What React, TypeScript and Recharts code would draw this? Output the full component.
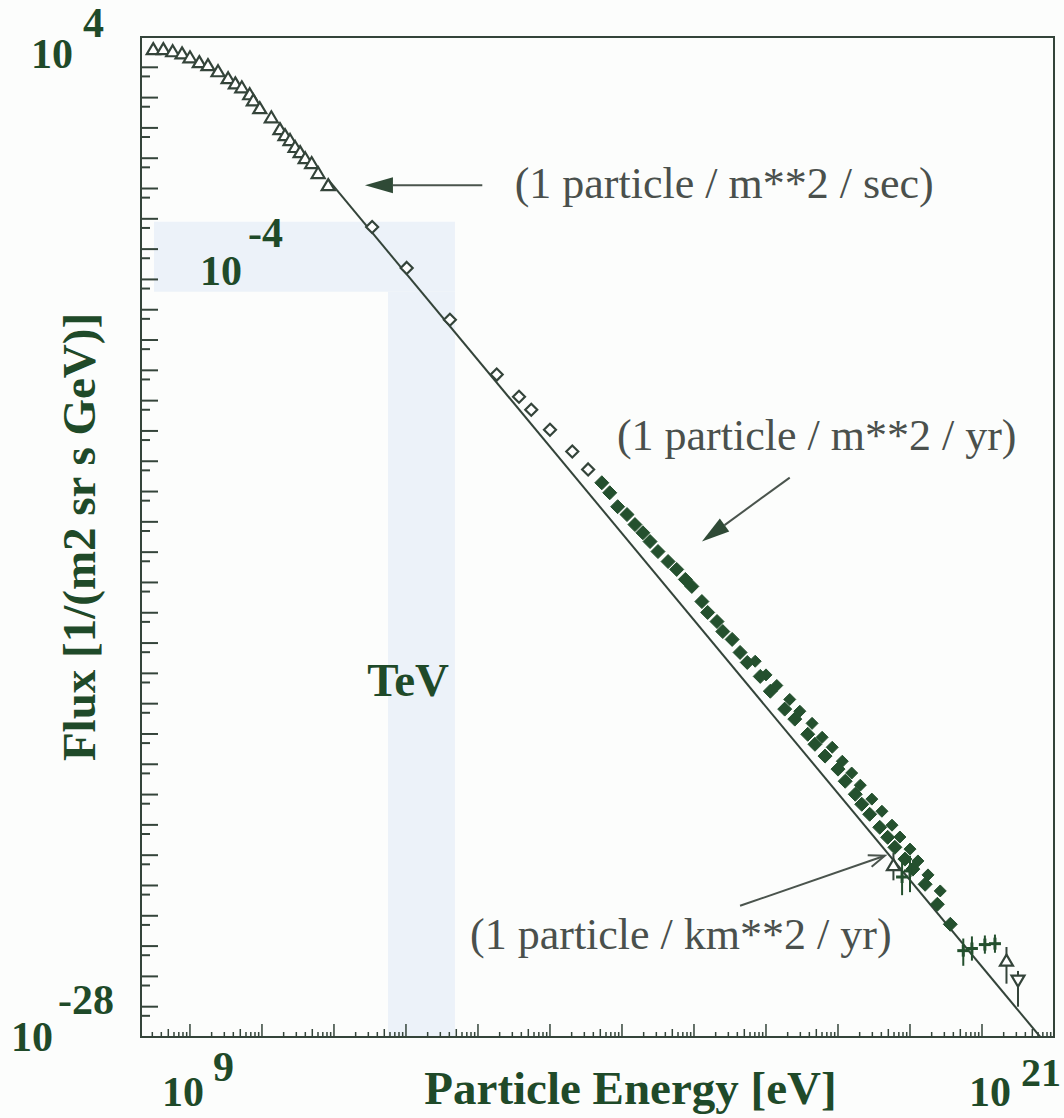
import React from 'react';
import {
  ComposedChart,
  XAxis,
  YAxis,
  Scatter,
  Line,
  ErrorBar,
  ReferenceArea,
  ReferenceLine,
  ReferenceDot,
} from 'recharts';

const SERIF = '"Liberation Serif", "Times New Roman", serif';
const INK = '#1f4a29';
const STROKE = '#34443a';
const MARK = '#24502e';
const BAND = '#ecf2f9';

// all values are log10: energy in eV, flux in 1/(m2 sr s GeV)
const triE = [8.49, 8.63, 8.76, 8.89, 9.0, 9.13, 9.25, 9.39, 9.53, 9.63, 9.72, 9.83, 9.88, 9.97, 10.13, 10.25, 10.32, 10.39, 10.46, 10.53, 10.6, 10.69, 10.78, 10.92];
const triF = [4.6, 4.6, 4.53, 4.46, 4.33, 4.17, 4.07, 3.87, 3.64, 3.47, 3.34, 3.11, 2.91, 2.65, 2.35, 1.96, 1.76, 1.6, 1.37, 1.2, 1.0, 0.84, 0.51, 0.11];

const diaE = [11.53, 12.01, 12.61, 13.26, 13.57, 13.74, 14.0, 14.31, 14.53];
const diaF = [-1.27, -2.62, -4.33, -6.14, -6.87, -7.3, -7.96, -8.68, -9.27];

const denseE = [14.72, 14.83, 14.94, 15.07, 15.18, 15.29, 15.39, 15.5, 15.64, 15.76, 15.88, 15.97, 16.11, 16.19, 16.32, 16.4, 16.53, 16.64, 16.74, 16.92, 17.06, 17.26, 17.4, 17.58, 17.68, 17.82, 18.0, 18.1, 18.24, 18.33, 18.44, 18.58, 18.69, 18.79, 18.93, 19.04, 19.21, 19.38, 19.56];
const denseF = [-9.71, -10.04, -10.5, -10.76, -11.09, -11.36, -11.65, -11.98, -12.31, -12.57, -12.9, -13.13, -13.63, -13.99, -14.29, -14.62, -14.88, -15.31, -15.64, -16.1, -16.59, -17.18, -17.51, -18.01, -18.34, -18.73, -19.16, -19.56, -19.99, -20.32, -20.65, -21.08, -21.41, -21.74, -22.13, -22.46, -22.96, -23.62, -24.28];

const showerE = [16.85, 17.0, 17.15, 17.33, 17.47, 17.64, 17.78, 17.92, 18.06, 18.19, 18.31, 18.47, 18.61, 18.75, 18.86, 19.0, 19.11, 19.25, 19.42];
const showerF = [-15.6, -16.05, -16.4, -16.86, -17.25, -17.65, -18.11, -18.44, -18.9, -19.29, -19.69, -20.15, -20.55, -21.01, -21.4, -21.8, -22.19, -22.65, -23.18];

const errE = [18.89, 19.0, 19.74, 19.86, 20.04, 20.18];
const errF = [-22.72, -22.52, -25.15, -25.08, -24.95, -24.92];
const errLo = [0.6, 0.7, 0.5, 0.4, 0.3, 0.3];
const errHi = [0.6, 0.5, 0.4, 0.4, 0.3, 0.3];

const upE = [18.77, 20.34];
const upF = [-22.33, -25.48];
const upLo = [0.5, 0.76];
const upHi = [0.4, 0.45];

const downE = [20.5];
const downF = [-26.14];
const downLo = [0.86];
const downHi = [0.32];

// power-law fit line
const fitE = [10.92, 20.81];
const fitF = [0.29, -28];

const xDomain = [8.32, 21];
const yDomain = [-28, 5];
const xDecades = [8, 9, 10, 11, 12, 13, 14, 15, 16, 17, 18, 19, 20, 21];
const yDecades = Array.from({ length: 33 }, (_, i) => -28 + i);
const xLabels: Record<number, string> = { 9: '9', 21: '21' };
const yLabels: Record<number, string> = { 4: '4', [-28]: '-28' };

const notes = [
  { text: '(1 particle / m**2 / sec)', e: 13.51, f: -0.31 },
  { text: '(1 particle / m**2 / yr)', e: 14.93, f: -8.62 },
  { text: '(1 particle / km**2 / yr)', e: 12.89, f: -25.09 },
];

const arrows = [
  { e1: 13.06, f1: 0.11, e2: 11.43, f2: 0.11, head: 'big' },
  { e1: 17.33, f1: -9.54, e2: 16.11, f2: -11.65, head: 'big' },
  { e1: 16.64, f1: -23.67, e2: 18.65, f2: -22.02, head: 'open' },
];

const rows = (e: number[], f: number[]) => e.map((v, i) => ({ e: v, f: f[i] }));
const errRows = (e: number[], f: number[], lo: number[], hi: number[]) =>
  e.map((v, i) => ({ e: v, f: f[i], err: [lo[i], hi[i]] }));

const xTicks: number[] = [];
for (const n of xDecades) {
  for (let k = 1; k <= 9; k++) {
    const v = n + Math.log10(k);
    if (v >= xDomain[0] - 1e-9 && v <= xDomain[1] + 1e-9) xTicks.push(v);
    if (n === 21) break;
  }
}
const yTicks: number[] = [];
for (const n of yDecades) {
  yTicks.push(n);
  if (n > -28 && n <= 4) yTicks.push(n - Math.log10(2));
}

function frac(v: number) {
  return v - Math.floor(v + 1e-7);
}

function XTick(props: any) {
  const { x, y, payload } = props;
  const v = payload.value;
  const fr = frac(v);
  const major = fr < 1e-6;
  const five = Math.abs(fr - Math.log10(5)) < 1e-6;
  const len = major ? 13 : five ? 8 : 5;
  const key = Math.round(v);
  return (
    <g>
      <line x1={x} y1={y} x2={x} y2={y - len} stroke={STROKE} strokeWidth={1.5} />
      {major && xLabels[key] && (
        <g fontFamily={SERIF} fontWeight="bold" fontSize={42} fill={INK}>
          <text x={key === 9 ? x - 7 : x - 64} y={y + 69} textAnchor="middle">10</text>
          <text x={key === 9 ? x + 23 : x - 33} y={key === 9 ? y + 44 : y + 49} fontSize={key === 9 ? 42 : 40}>
            {xLabels[key]}
          </text>
        </g>
      )}
    </g>
  );
}

function YTick(props: any) {
  const { x, y, payload } = props;
  const v = payload.value;
  const major = frac(v) < 1e-6;
  const len = major ? 17 : 9;
  const key = Math.round(v);
  return (
    <g>
      <line x1={x} y1={y} x2={x + len} y2={y} stroke={STROKE} strokeWidth={2} />
      {major && yLabels[key] && (
        <g fontFamily={SERIF} fontWeight="bold" fontSize={42} fill={INK}>
          <text x={key === 4 ? x - 89 : x - 109} y={key === 4 ? y + 1 : y + 14} textAnchor="middle">10</text>
          <text x={key === 4 ? x - 58 : x - 83} y={key === 4 ? y - 30 : y - 23}>{yLabels[key]}</text>
        </g>
      )}
    </g>
  );
}

const openTriUp = (p: any) => (
  <polygon
    points={`${p.cx},${p.cy - 6} ${p.cx + 6.5},${p.cy + 5} ${p.cx - 6.5},${p.cy + 5}`}
    fill="#fff"
    stroke={STROKE}
    strokeWidth={2.2}
  />
);
const openTriDown = (p: any) => (
  <polygon
    points={`${p.cx},${p.cy + 6} ${p.cx + 6.5},${p.cy - 5} ${p.cx - 6.5},${p.cy - 5}`}
    fill="#fff"
    stroke={STROKE}
    strokeWidth={2.2}
  />
);
const openDiamond = (p: any) => (
  <polygon
    points={`${p.cx},${p.cy - 6} ${p.cx + 6},${p.cy} ${p.cx},${p.cy + 6} ${p.cx - 6},${p.cy}`}
    fill="#fff"
    stroke={STROKE}
    strokeWidth={2.2}
  />
);
const filledDiamond = (p: any) => (
  <polygon
    points={`${p.cx},${p.cy - 7} ${p.cx + 7},${p.cy} ${p.cx},${p.cy + 7} ${p.cx - 7},${p.cy}`}
    fill={MARK}
    stroke={MARK}
    strokeWidth={1}
  />
);
const smallDiamond = (p: any) => (
  <polygon
    points={`${p.cx},${p.cy - 6} ${p.cx + 6},${p.cy} ${p.cx},${p.cy + 6} ${p.cx - 6},${p.cy}`}
    fill={MARK}
    stroke={MARK}
    strokeWidth={1}
  />
);
const cross = (p: any) => (
  <g stroke={MARK} strokeWidth={3}>
    <line x1={p.cx - 6} y1={p.cy} x2={p.cx + 6} y2={p.cy} />
    <line x1={p.cx} y1={p.cy - 6} x2={p.cx} y2={p.cy + 6} />
  </g>
);

function Arrow(props: any) {
  const { x1, y1, x2, y2, head } = props;
  const dx = x2 - x1;
  const dy = y2 - y1;
  const L = Math.hypot(dx, dy);
  const ux = dx / L;
  const uy = dy / L;
  const hl = head === 'big' ? 28 : 16;
  const hw = head === 'big' ? 8 : 6;
  const bx = x2 - ux * hl;
  const by = y2 - uy * hl;
  const p1 = `${bx - uy * hw},${by + ux * hw}`;
  const p2 = `${bx + uy * hw},${by - ux * hw}`;
  return (
    <g>
      <line x1={x1} y1={y1} x2={head === 'big' ? bx : x2} y2={head === 'big' ? by : y2} stroke="#4a544d" strokeWidth={2} />
      {head === 'big' ? (
        <polygon points={`${x2},${y2} ${p1} ${p2}`} fill="#2f4a36" />
      ) : (
        <polyline points={`${p1} ${x2},${y2} ${p2}`} fill="none" stroke="#4a544d" strokeWidth={2} />
      )}
    </g>
  );
}

export default function App() {
  return (
    <div style={{ width: 1064, height: 1118, background: '#fcfdfc' }}>
      <style>{'body{margin:0}'}</style>
      <ComposedChart width={1064} height={1118} margin={{ top: 37, right: 10, bottom: 0, left: 0 }}>
        <XAxis
          type="number"
          dataKey="e"
          domain={xDomain}
          allowDataOverflow
          ticks={xTicks}
          interval={0}
          tick={<XTick />}
          tickSize={0}
          tickMargin={0}
          tickLine={false}
          axisLine={false}
          height={81}
          label={{
            content: ({ viewBox }: any) => (
              <text
                x={viewBox.x + viewBox.width / 2 + 33}
                y={viewBox.y + 67}
                textAnchor="middle"
                fontFamily={SERIF}
                fontWeight="bold"
                fontSize={47}
                fill={INK}
              >
                Particle Energy [eV]
              </text>
            ),
          }}
        />
        <YAxis
          type="number"
          dataKey="f"
          domain={yDomain}
          allowDataOverflow
          ticks={yTicks}
          interval={0}
          tick={<YTick />}
          tickSize={0}
          tickMargin={0}
          tickLine={false}
          axisLine={false}
          width={141}
          label={{
            content: ({ viewBox }: any) => {
              const cx = 95;
              const cy = viewBox.y + viewBox.height / 2;
              return (
                <text
                  x={cx}
                  y={cy}
                  transform={`rotate(-90 ${cx} ${cy})`}
                  textAnchor="middle"
                  fontFamily={SERIF}
                  fontWeight="bold"
                  fontSize={47}
                  fill={INK}
                >
                  Flux [1/(m2 sr s GeV)]
                </text>
              );
            },
          }}
        />

        {/* TeV highlight band */}
        <ReferenceArea x1={8.5} x2={12.68} y1={-3.41} y2={-1.1} fill={BAND} fillOpacity={1} stroke="none" />
        <ReferenceArea x1={11.75} x2={12.68} y1={-28} y2={-3.41} fill={BAND} fillOpacity={1} stroke="none" />
        <ReferenceArea x1={xDomain[0]} x2={xDomain[1]} y1={yDomain[0]} y2={yDomain[1]} fill="none" stroke={STROKE} strokeWidth={2} />

        <ReferenceDot
          x={9.14}
          y={-3.18}
          r={0}
          shape={(p: any) => (
            <g fontFamily={SERIF} fontWeight="bold" fontSize={42} fill={INK}>
              <text x={p.cx} y={p.cy}>10</text>
              <text x={p.cx + 48} y={p.cy - 38}>-4</text>
            </g>
          )}
        />
        <ReferenceDot
          x={12.03}
          y={-16.76}
          r={0}
          shape={(p: any) => (
            <text x={p.cx} y={p.cy} textAnchor="middle" fontFamily={SERIF} fontWeight="bold" fontSize={47} fill={INK}>
              TeV
            </text>
          )}
        />
        {notes.map((n) => (
          <ReferenceDot
            key={n.text}
            x={n.e}
            y={n.f}
            r={0}
            shape={(p: any) => (
              <text x={p.cx} y={p.cy} fontFamily={SERIF} fontSize={44} fill="#4a504c">
                {n.text}
              </text>
            )}
          />
        ))}
        {arrows.map((a, i) => (
          <ReferenceLine
            key={i}
            segment={[
              { x: a.e1, y: a.f1 },
              { x: a.e2, y: a.f2 },
            ]}
            shape={(p: any) => <Arrow {...p} head={a.head} />}
          />
        ))}

        <Line data={rows(fitE, fitF)} dataKey="f" stroke={STROKE} strokeWidth={2} dot={false} isAnimationActive={false} />

        <Scatter data={rows(triE, triF)} shape={openTriUp} isAnimationActive={false} />
        <Scatter data={rows(diaE, diaF)} shape={openDiamond} isAnimationActive={false} />
        <Scatter data={rows(showerE, showerF)} shape={smallDiamond} isAnimationActive={false} />
        <Scatter data={rows(denseE, denseF)} shape={filledDiamond} isAnimationActive={false} />
        <Scatter data={errRows(errE, errF, errLo, errHi)} shape={cross} isAnimationActive={false}>
          <ErrorBar dataKey="err" direction="y" width={0} stroke={MARK} strokeWidth={2} />
        </Scatter>
        <Scatter data={errRows(upE, upF, upLo, upHi)} shape={openTriUp} isAnimationActive={false}>
          <ErrorBar dataKey="err" direction="y" width={0} stroke={STROKE} strokeWidth={2} />
        </Scatter>
        <Scatter data={errRows(downE, downF, downLo, downHi)} shape={openTriDown} isAnimationActive={false}>
          <ErrorBar dataKey="err" direction="y" width={0} stroke={STROKE} strokeWidth={2} />
        </Scatter>
      </ComposedChart>
    </div>
  );
}
